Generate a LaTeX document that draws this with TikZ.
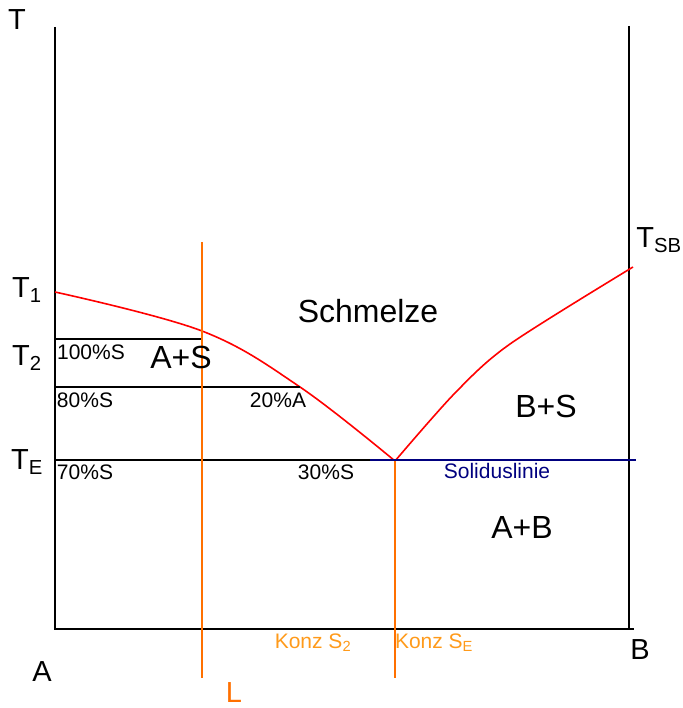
\documentclass[tikz,border=0pt]{standalone}
\usepackage{fontspec}
\setmainfont{Liberation Sans}
\usepackage{tikz}
\definecolor{konzline}{HTML}{FF7000}
\definecolor{konztext}{HTML}{FF9A1A}
\definecolor{solidus}{HTML}{00007F}
\tikzset{
    phasediagram/.style={x=1pt, y=-1pt, line width=2pt},
    axis/.style={black, line width=2pt},
    tieline/.style={black, line width=1.6pt},
    liquidus/.style={red, line width=1.6pt},
    konz/.style={konzline, line width=1.6pt},
    biglabel/.style={font=\fontsize{32}{34}\selectfont, inner sep=0pt},
    templabel/.style={font=\fontsize{29}{31}\selectfont, inner sep=0pt},
    smalllabel/.style={font=\fontsize{21}{23}\selectfont, inner sep=0pt},
    konzlabel/.style={smalllabel, text=konztext},
}
\begin{document}
\begin{tikzpicture}[phasediagram]
    \useasboundingbox (0,0) rectangle (682,708);

    % axes
    \coordinate (topA) at (55,27);
    \coordinate (botA) at (55,629);
    \coordinate (topB) at (629,26);
    \coordinate (botB) at (629,629);
    \coordinate (endB) at (634,629);
    \draw[axis] (topA) -- (botA) -- (endB);
    \draw[axis] (topB) -- (botB);

    % temperatures
    \node[templabel] (t) at (17,20) {T};
    \node[templabel] (t1) at (27,290) {T\textsubscript{1}};
    \node[templabel] (t2) at (27,358) {T\textsubscript{2}};
    \node[templabel] (te) at (27,462) {T\textsubscript{E}};
    \node[templabel] (tsb) at (659,240) {T\textsubscript{SB}};
    \node[templabel] (a) at (42,672) {A};
    \node[templabel] (b) at (640,650) {B};

    % liquidus
    \coordinate (liqA) at (55,292);
    \coordinate (eut) at (395,461);
    \coordinate (liqB) at (633,267);
    \draw[liquidus] plot[smooth, tension=0.6] coordinates {(liqA) (202,331) (300,387) (eut)};
    \draw[liquidus] plot[smooth, tension=0.5] coordinates {(eut) (455,393) (510,344) (liqB)};

    % tie lines
    \coordinate (tie2a) at (55,339);
    \coordinate (tie2b) at (202,339);
    \coordinate (tie3a) at (55,387);
    \coordinate (tie3b) at (300,387);
    \coordinate (sola) at (55,460);
    \coordinate (solm) at (370,460);
    \coordinate (solb) at (636,460);
    \draw[tieline] (tie2a) -- (tie2b);
    \draw[tieline] (tie3a) -- (tie3b);
    \draw[tieline] (sola) -- (solm);
    \draw[solidus, line width=1.6pt] (solm) -- (solb);

    % concentrations
    \coordinate (ltop) at (202,242);
    \coordinate (lbot) at (202,678);
    \coordinate (ebot) at (395,678);
    \draw[konz] (ltop) -- (lbot);
    \draw[konz] (eut) -- (ebot);

    % regions
    \node[biglabel] (schmelze) at (368,311) {Schmelze};
    \node[biglabel] (as) at (181,357) {A+S};
    \node[biglabel] (bs) at (546,406) {B+S};
    \node[biglabel] (ab) at (522,527) {A+B};

    % percentages
    \node[smalllabel] (p100) at (91,352) {100\%S};
    \node[smalllabel] (p80) at (85,400) {80\%S};
    \node[smalllabel] (p20) at (278,400) {20\%A};
    \node[smalllabel] (p70) at (85,472) {70\%S};
    \node[smalllabel] (p30) at (326,472) {30\%S};
    \node[smalllabel, text=solidus] (soltext) at (497,471) {Soliduslinie};

    \node[konzlabel] (konz2) at (313,643) {Konz S\textsubscript{2}};
    \node[konzlabel] (konze) at (434,643) {Konz S\textsubscript{E}};
    \node[templabel, text=konzline] (l) at (234,693) {L};
\end{tikzpicture}
\end{document}
